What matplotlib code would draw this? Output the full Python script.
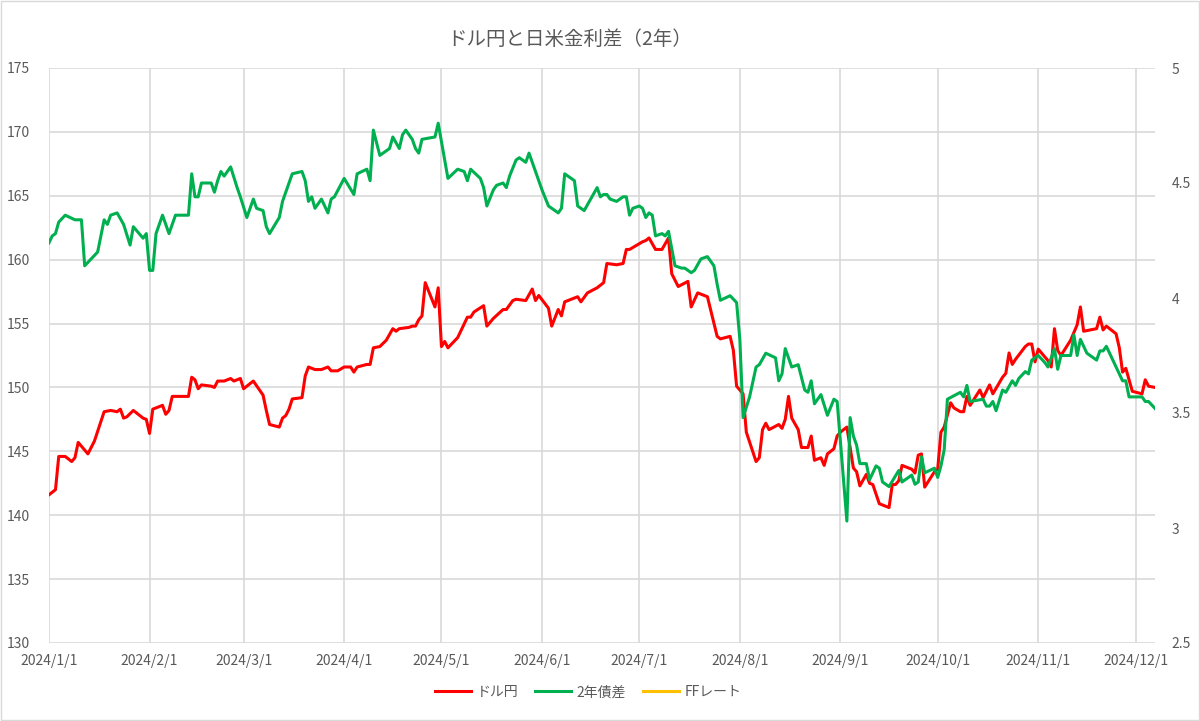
import matplotlib
matplotlib.use("Agg")
import matplotlib.pyplot as plt
import matplotlib.dates as mdates
import matplotlib.ticker as mticker
import pandas as pd

plt.rcParams['font.family'] = ['Noto Sans CJK JP', 'DejaVu Sans']

# ドル円 (left axis)
usd_dates = ["01-01", "01-03", "01-04", "01-06", "01-08", "01-09", "01-10", "01-13", "01-15", "01-18",
             "01-20", "01-22", "01-23", "01-24", "01-25", "01-27", "01-30", "01-31", "02-01", "02-02",
             "02-05", "02-06", "02-07", "02-08", "02-13", "02-14", "02-15", "02-16", "02-17", "02-20",
             "02-21", "02-22", "02-24", "02-26", "02-27", "02-29", "03-01", "03-04", "03-07", "03-08",
             "03-09", "03-12", "03-13", "03-14", "03-15", "03-16", "03-19", "03-20", "03-21", "03-23",
             "03-25", "03-27", "03-28", "03-30", "04-01", "04-03", "04-04", "04-05", "04-08", "04-09",
             "04-10", "04-12", "04-14", "04-16", "04-17", "04-18", "04-21", "04-22", "04-23", "04-24",
             "04-25", "04-26", "04-29", "04-30", "05-01", "05-02", "05-03", "05-06", "05-09", "05-10",
             "05-11", "05-14", "05-15", "05-17", "05-20", "05-21", "05-23", "05-24", "05-27", "05-29",
             "05-30", "05-31", "06-03", "06-04", "06-06", "06-07", "06-08", "06-12", "06-13", "06-15",
             "06-18", "06-20", "06-21", "06-24", "06-26", "06-27", "06-28", "07-02", "07-03", "07-04",
             "07-06", "07-08", "07-10", "07-11", "07-13", "07-16", "07-17", "07-19", "07-22", "07-25",
             "07-26", "07-29", "07-30", "07-31", "08-02", "08-03", "08-06", "08-07", "08-08", "08-09",
             "08-10", "08-13", "08-14", "08-15", "08-16", "08-17", "08-19", "08-20", "08-22", "08-23",
             "08-24", "08-26", "08-27", "08-28", "08-30", "08-31", "09-01", "09-03", "09-05", "09-06",
             "09-07", "09-09", "09-10", "09-11", "09-13", "09-16", "09-17", "09-18", "09-19", "09-20",
             "09-23", "09-24", "09-25", "09-26", "09-27", "09-30", "10-01", "10-02", "10-03", "10-05",
             "10-06", "10-08", "10-09", "10-10", "10-11", "10-14", "10-15", "10-17", "10-18", "10-21",
             "10-22", "10-23", "10-24", "10-25", "10-28", "10-29", "10-30", "10-31", "11-01", "11-04",
             "11-05", "11-06", "11-07", "11-08", "11-11", "11-13", "11-14", "11-15", "11-19", "11-20",
             "11-21", "11-22", "11-25", "11-26", "11-27", "11-28", "11-30", "12-03", "12-04", "12-05",
             "12-07"]
usd_vals = [141.6, 142.0, 144.6, 144.6, 144.2, 144.5, 145.7, 144.8, 145.8, 148.1,
            148.2, 148.1, 148.3, 147.6, 147.7, 148.2, 147.6, 147.5, 146.4, 148.3,
            148.6, 147.9, 148.2, 149.3, 149.3, 150.8, 150.6, 149.9, 150.2, 150.1,
            150.0, 150.5, 150.5, 150.7, 150.5, 150.7, 149.9, 150.5, 149.4, 148.2,
            147.1, 146.9, 147.6, 147.8, 148.3, 149.1, 149.2, 150.9, 151.6, 151.4,
            151.4, 151.6, 151.3, 151.3, 151.6, 151.6, 151.2, 151.6, 151.8, 151.8,
            153.1, 153.2, 153.7, 154.6, 154.4, 154.6, 154.7, 154.8, 154.8, 155.3,
            155.6, 158.2, 156.3, 157.8, 153.2, 153.6, 153.1, 153.9, 155.5, 155.5,
            155.9, 156.4, 154.8, 155.4, 156.1, 156.1, 156.8, 156.9, 156.8, 157.7,
            156.8, 157.2, 156.2, 154.8, 156.1, 155.6, 156.7, 157.1, 156.7, 157.4,
            157.8, 158.2, 159.7, 159.6, 159.7, 160.8, 160.8, 161.4, 161.5, 161.7,
            160.8, 160.8, 161.7, 158.9, 157.9, 158.3, 156.3, 157.4, 157.1, 154.0,
            153.8, 154.0, 152.9, 150.1, 149.5, 146.5, 144.2, 144.5, 146.7, 147.2,
            146.7, 147.1, 146.8, 147.5, 149.3, 147.6, 146.7, 145.3, 145.3, 146.2,
            144.3, 144.5, 143.9, 144.8, 145.2, 146.2, 146.5, 146.9, 143.7, 143.4,
            142.3, 143.2, 142.5, 142.4, 140.9, 140.6, 142.4, 142.4, 142.7, 143.9,
            143.6, 143.3, 144.7, 144.8, 142.2, 143.4, 143.6, 146.5, 146.9, 148.8,
            148.4, 148.1, 148.1, 149.3, 148.6, 149.8, 149.2, 150.2, 149.5, 150.8,
            151.1, 152.7, 151.8, 152.2, 153.2, 153.4, 153.4, 152.0, 153.0, 152.1,
            151.6, 154.6, 152.9, 152.5, 153.7, 154.9, 156.3, 154.4, 154.6, 155.5,
            154.5, 154.8, 154.2, 153.1, 151.2, 151.5, 149.7, 149.5, 150.6, 150.1,
            150.0]

# 2年債差 (right axis)
spread_dates = ["01-01", "01-02", "01-03", "01-04", "01-06", "01-09", "01-11", "01-12", "01-16", "01-18",
                "01-19", "01-20", "01-22", "01-24", "01-26", "01-27", "01-30", "01-31", "02-01", "02-02",
                "02-03", "02-05", "02-07", "02-09", "02-13", "02-14", "02-15", "02-16", "02-17", "02-20",
                "02-21", "02-22", "02-23", "02-24", "02-26", "02-28", "02-29", "03-02", "03-04", "03-05",
                "03-07", "03-08", "03-09", "03-12", "03-13", "03-16", "03-19", "03-20", "03-21", "03-22",
                "03-23", "03-25", "03-27", "03-28", "03-29", "04-01", "04-04", "04-05", "04-08", "04-09",
                "04-10", "04-12", "04-15", "04-16", "04-18", "04-19", "04-20", "04-22", "04-23", "04-24",
                "04-25", "04-29", "04-30", "05-03", "05-06", "05-08", "05-09", "05-10", "05-13", "05-14",
                "05-15", "05-17", "05-18", "05-20", "05-21", "05-22", "05-24", "05-25", "05-27", "05-28",
                "05-29", "06-01", "06-03", "06-06", "06-07", "06-08", "06-11", "06-12", "06-14", "06-18",
                "06-19", "06-20", "06-21", "06-22", "06-24", "06-26", "06-27", "06-28", "06-29", "07-01",
                "07-02", "07-03", "07-04", "07-05", "07-06", "07-08", "07-09", "07-10", "07-12", "07-14",
                "07-15", "07-17", "07-18", "07-20", "07-22", "07-24", "07-25", "07-26", "07-29", "07-31",
                "08-01", "08-02", "08-04", "08-06", "08-07", "08-09", "08-12", "08-13", "08-14", "08-15",
                "08-17", "08-19", "08-21", "08-22", "08-23", "08-24", "08-26", "08-28", "08-30", "08-31",
                "09-03", "09-04", "09-05", "09-06", "09-07", "09-09", "09-10", "09-12", "09-13", "09-14",
                "09-16", "09-19", "09-20", "09-23", "09-24", "09-25", "09-26", "09-27", "09-30", "10-01",
                "10-02", "10-03", "10-04", "10-08", "10-09", "10-10", "10-11", "10-15", "10-16", "10-17",
                "10-18", "10-19", "10-21", "10-22", "10-24", "10-25", "10-26", "10-28", "10-29", "10-30",
                "11-01", "11-03", "11-04", "11-06", "11-07", "11-08", "11-11", "11-12", "11-13", "11-14",
                "11-16", "11-19", "11-20", "11-21", "11-22", "11-25", "11-27", "11-28", "11-29", "12-03",
                "12-04", "12-05", "12-07"]
spread_vals = [4.24, 4.27, 4.28, 4.33, 4.36, 4.34, 4.34, 4.14, 4.20, 4.34,
               4.32, 4.36, 4.37, 4.32, 4.23, 4.31, 4.26, 4.28, 4.12, 4.12,
               4.28, 4.36, 4.28, 4.36, 4.36, 4.54, 4.44, 4.44, 4.50, 4.50,
               4.46, 4.51, 4.55, 4.53, 4.57, 4.48, 4.44, 4.35, 4.43, 4.39,
               4.38, 4.31, 4.28, 4.35, 4.42, 4.54, 4.55, 4.51, 4.42, 4.44,
               4.39, 4.43, 4.37, 4.43, 4.44, 4.52, 4.45, 4.54, 4.56, 4.51,
               4.73, 4.62, 4.65, 4.70, 4.65, 4.71, 4.73, 4.69, 4.65, 4.63,
               4.69, 4.70, 4.76, 4.52, 4.56, 4.55, 4.51, 4.56, 4.52, 4.48,
               4.40, 4.47, 4.49, 4.50, 4.48, 4.53, 4.60, 4.61, 4.59, 4.63,
               4.59, 4.47, 4.40, 4.37, 4.39, 4.54, 4.51, 4.40, 4.38, 4.48,
               4.44, 4.45, 4.45, 4.43, 4.42, 4.44, 4.44, 4.36, 4.39, 4.40,
               4.39, 4.35, 4.37, 4.36, 4.27, 4.28, 4.27, 4.29, 4.14, 4.13,
               4.13, 4.11, 4.12, 4.17, 4.18, 4.14, 4.06, 3.99, 4.01, 3.98,
               3.82, 3.48, 3.57, 3.70, 3.71, 3.76, 3.74, 3.64, 3.67, 3.78,
               3.70, 3.71, 3.60, 3.59, 3.64, 3.54, 3.58, 3.49, 3.56, 3.55,
               3.03, 3.48, 3.40, 3.36, 3.28, 3.28, 3.21, 3.27, 3.26, 3.20,
               3.18, 3.25, 3.20, 3.23, 3.19, 3.20, 3.31, 3.24, 3.26, 3.22,
               3.27, 3.34, 3.56, 3.59, 3.57, 3.62, 3.55, 3.56, 3.53, 3.53,
               3.55, 3.51, 3.60, 3.59, 3.64, 3.62, 3.65, 3.68, 3.67, 3.73,
               3.75, 3.72, 3.70, 3.78, 3.69, 3.75, 3.75, 3.84, 3.75, 3.82,
               3.76, 3.73, 3.77, 3.77, 3.79, 3.70, 3.64, 3.64, 3.57, 3.57,
               3.55, 3.55, 3.52]

# FFレート (no points in the visible range)
ff_dates = []
ff_vals = []

month_ticks = pd.date_range("2024-01-01", "2024-12-01", freq="MS")

usd_x = pd.to_datetime(["2024-" + d for d in usd_dates])
spread_x = pd.to_datetime(["2024-" + d for d in spread_dates])
ff_x = pd.to_datetime(["2024-" + d for d in ff_dates])

grey = "#595959"
grid_c = "#D9D9D9"

fig = plt.figure(figsize=(12, 7.21), dpi=100)
ax = fig.add_axes([49 / 1200, 1 - 643 / 721, (1155 - 49) / 1200, (643 - 68) / 721])
ax2 = ax.twinx()

l1, = ax.plot(usd_x, usd_vals, color="#FF0000", lw=2.2, label="ドル円")
l2, = ax2.plot(spread_x, spread_vals, color="#00B050", lw=2.2, label="2年債差")
l3, = ax2.plot(ff_x, ff_vals, color="#FFC000", lw=2.2, label="FFレート")

ax.set_xlim(pd.Timestamp("2024-01-01"), pd.Timestamp("2024-12-07"))
ax.set_ylim(130, 175)
ax.set_yticks(range(130, 176, 5))
ax2.set_ylim(2.5, 5)
ax2.set_yticks([2.5, 3, 3.5, 4, 4.5, 5])
ax2.yaxis.set_major_formatter(mticker.FuncFormatter(lambda v, p: "%g" % v))

ax.set_xticks(month_ticks)
ax.set_xticklabels([f"{d.year}/{d.month}/{d.day}" for d in month_ticks])

ax.grid(True, color=grid_c, lw=1.2)
ax.set_axisbelow(True)
for a in (ax, ax2):
    for s in a.spines.values():
        s.set_visible(False)
    a.tick_params(length=0, colors=grey, labelsize=10)
ax.tick_params(axis="y", pad=14)
ax2.tick_params(axis="y", pad=12)
ax.tick_params(axis="x", pad=8)

fig.text(0.475, 0.945, "ドル円と日米金利差（2年）", ha="center", va="center",
         fontsize=14, color=grey)

fig.legend(handles=[l1, l2, l3], loc="center", bbox_to_anchor=(0.49, 0.04), ncol=3,
           frameon=False, fontsize=10, labelcolor=grey, handlelength=2.6,
           columnspacing=1.2, handletextpad=0.4)

fig.patches.append(plt.Rectangle((0.001, 0.001), 0.998, 0.998, transform=fig.transFigure,
                                 fill=False, edgecolor=grid_c, lw=1))

fig.savefig("out.png", dpi=100)
